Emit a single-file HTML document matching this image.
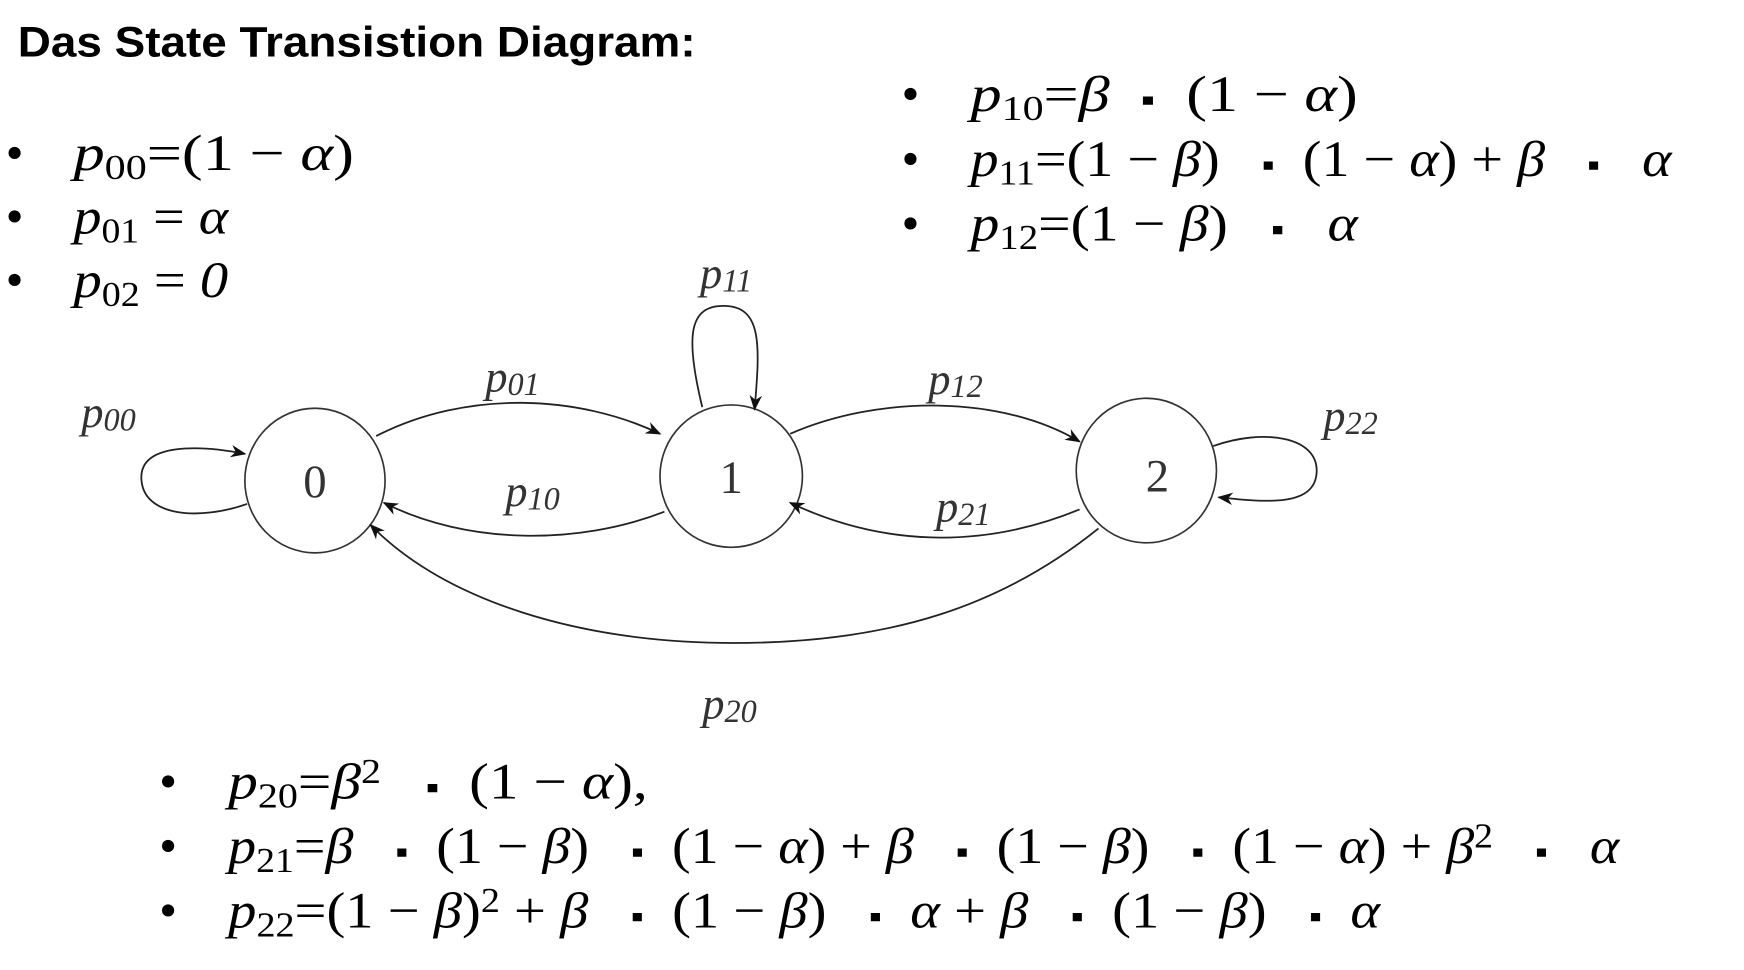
<!DOCTYPE html>
<html><head><meta charset="utf-8"><style>
html,body{margin:0;padding:0;background:#fff;width:1744px;height:970px;overflow:hidden}
svg{display:block}
text{white-space:pre}
.t{font-family:"Liberation Sans",sans-serif;font-weight:bold;font-size:38px;fill:#000}
.m{font-family:"Liberation Serif",serif;font-size:46px;fill:#000}
.i{font-style:italic}
.s{font-size:31px}
.d{font-size:30px}
.l{font-family:"Liberation Serif",serif;font-style:italic;font-size:40px;fill:#333}
.l .s{font-size:29px}
.n{font-family:"Liberation Serif",serif;font-size:42px;fill:#333}
.e{fill:none;stroke:#222;stroke-width:1.6}
</style></head><body>
<svg width="1744" height="970" viewBox="0 0 1567 872" preserveAspectRatio="none">
<defs><marker id="ar" viewBox="0 0 10 10" refX="9" refY="5" markerWidth="14" markerHeight="14" markerUnits="userSpaceOnUse" orient="auto"><path d="M0,1 L10,5 L0,9 L3,5 Z" fill="#111"/></marker></defs>
<text class="t" x="16" y="51" textLength="609" lengthAdjust="spacingAndGlyphs">Das State Transistion Diagram:</text>

<g>
<text class="m" x="5" y="153">•</text><text class="m" x="66" y="153" textLength="252" lengthAdjust="spacingAndGlyphs"><tspan class="i">p</tspan><tspan class="s" dy="8">00</tspan><tspan dy="-8">=(1 − </tspan><tspan class="i">α</tspan>)</text>
<text class="m" x="5" y="210">•</text><text class="m" x="66" y="210" textLength="139" lengthAdjust="spacingAndGlyphs"><tspan class="i">p</tspan><tspan class="s" dy="8">01</tspan><tspan dy="-8"> = </tspan><tspan class="i">α</tspan></text>
<text class="m" x="5" y="267">•</text><text class="m" x="66" y="267" textLength="139" lengthAdjust="spacingAndGlyphs"><tspan class="i">p</tspan><tspan class="s" dy="8">02</tspan><tspan dy="-8"> = </tspan><tspan class="i">0</tspan></text>
</g>
<g>
<text class="m" x="810" y="100">•</text><text class="m" x="872" y="100" textLength="348" lengthAdjust="spacingAndGlyphs"><tspan class="i">p</tspan><tspan class="s" dy="8">10</tspan><tspan dy="-8">=</tspan><tspan class="i">β</tspan>  <tspan class="d">▪</tspan>  (1 − <tspan class="i">α</tspan>)</text>
<text class="m" x="810" y="158">•</text><text class="m" x="872" y="158" textLength="630" lengthAdjust="spacingAndGlyphs"><tspan class="i">p</tspan><tspan class="s" dy="8">11</tspan><tspan dy="-8">=(1 − </tspan><tspan class="i">β</tspan>)   <tspan class="d">▪</tspan>  (1 − <tspan class="i">α</tspan>) + <tspan class="i">β</tspan>   <tspan class="d">▪</tspan>   <tspan class="i">α</tspan></text>
<text class="m" x="810" y="216">•</text><text class="m" x="872" y="216" textLength="348" lengthAdjust="spacingAndGlyphs"><tspan class="i">p</tspan><tspan class="s" dy="8">12</tspan><tspan dy="-8">=(1 − </tspan><tspan class="i">β</tspan>)   <tspan class="d">▪</tspan>   <tspan class="i">α</tspan></text>
</g>
<g>
<text class="m" x="143" y="718">•</text><text class="m" x="205" y="718" textLength="377" lengthAdjust="spacingAndGlyphs"><tspan class="i">p</tspan><tspan class="s" dy="8">20</tspan><tspan dy="-8">=</tspan><tspan class="i">β</tspan><tspan class="s" dy="-14">2</tspan><tspan dy="14">   </tspan><tspan class="d">▪</tspan>  (1 − <tspan class="i">α</tspan>),</text>
<text class="m" x="143" y="776">•</text><text class="m" x="205" y="776" textLength="1250" lengthAdjust="spacingAndGlyphs"><tspan class="i">p</tspan><tspan class="s" dy="8">21</tspan><tspan dy="-8">=</tspan><tspan class="i">β</tspan>   <tspan class="d">▪</tspan>  (1 − <tspan class="i">β</tspan>)   <tspan class="d">▪</tspan>  (1 − <tspan class="i">α</tspan>) + <tspan class="i">β</tspan>   <tspan class="d">▪</tspan>  (1 − <tspan class="i">β</tspan>)   <tspan class="d">▪</tspan>  (1 − <tspan class="i">α</tspan>) + <tspan class="i">β</tspan><tspan class="s" dy="-14">2</tspan><tspan dy="14">   </tspan><tspan class="d">▪</tspan>   <tspan class="i">α</tspan></text>
<text class="m" x="143" y="834">•</text><text class="m" x="205" y="834" textLength="1035" lengthAdjust="spacingAndGlyphs"><tspan class="i">p</tspan><tspan class="s" dy="8">22</tspan><tspan dy="-8">=(1 − </tspan><tspan class="i">β</tspan>)<tspan class="s" dy="-14">2</tspan><tspan dy="14"> + </tspan><tspan class="i">β</tspan>   <tspan class="d">▪</tspan>  (1 − <tspan class="i">β</tspan>)   <tspan class="d">▪</tspan>  <tspan class="i">α</tspan> + <tspan class="i">β</tspan>   <tspan class="d">▪</tspan>  (1 − <tspan class="i">β</tspan>)   <tspan class="d">▪</tspan>  <tspan class="i">α</tspan></text>
</g>

<g>
<ellipse cx="283" cy="432" rx="63" ry="65" fill="none" stroke="#333" stroke-width="1.5"/>
<ellipse cx="657" cy="428" rx="64" ry="64" fill="none" stroke="#333" stroke-width="1.5"/>
<ellipse cx="1030" cy="423" rx="63" ry="65" fill="none" stroke="#333" stroke-width="1.5"/>
<text class="n" x="283" y="447" text-anchor="middle">0</text>
<text class="n" x="657" y="443" text-anchor="middle">1</text>
<text class="n" x="1040" y="442" text-anchor="middle">2</text>
</g>

<g>
<path class="e" d="M222,453 C180,468 128,465 127,430 C126,398 180,400 220,408" marker-end="url(#ar)"/>
<path class="e" d="M338,392 C420,350 520,355 593,390" marker-end="url(#ar)"/>
<path class="e" d="M597,460 C520,490 420,490 345,452" marker-end="url(#ar)"/>
<path class="e" d="M631,366 C615,300 620,275 650,275 C685,275 683,310 678,368" marker-end="url(#ar)"/>
<path class="e" d="M710,390 C790,355 900,355 970,397" marker-end="url(#ar)"/>
<path class="e" d="M970,458 C880,495 790,490 710,452" marker-end="url(#ar)"/>
<path class="e" d="M1090,401 C1135,385 1185,392 1183,425 C1181,455 1140,452 1095,447" marker-end="url(#ar)"/>
<path class="e" d="M987,475 C900,545 800,578 660,578 C520,578 400,540 333,472" marker-end="url(#ar)"/>
</g>

<g>
<text class="l" x="73" y="384">p<tspan class="s" dy="3">00</tspan></text>
<text class="l" x="436" y="352">p<tspan class="s" dy="3">01</tspan></text>
<text class="l" x="454" y="455">p<tspan class="s" dy="3">10</tspan></text>
<text class="l" x="629" y="259">p<tspan class="s" dy="3">11</tspan></text>
<text class="l" x="834" y="354">p<tspan class="s" dy="3">12</tspan></text>
<text class="l" x="841" y="469">p<tspan class="s" dy="3">21</tspan></text>
<text class="l" x="1189" y="387">p<tspan class="s" dy="3">22</tspan></text>
<text class="l" x="631" y="646">p<tspan class="s" dy="3">20</tspan></text>
</g>
</svg>
</body></html>
